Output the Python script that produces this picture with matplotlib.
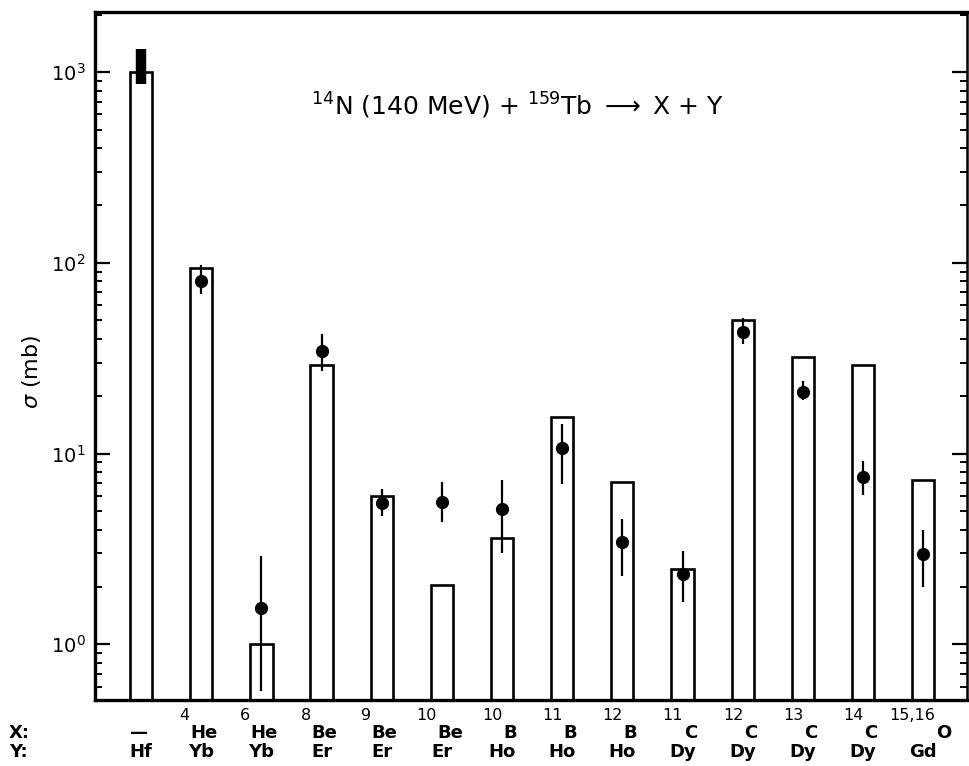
import numpy as np
import matplotlib
matplotlib.use("Agg")
import matplotlib.pyplot as plt
from matplotlib import transforms
from matplotlib.ticker import LogLocator, LogFormatterMathtext, NullFormatter

# Reaction products: light fragment X (mass number + element) and heavy partner Y
x_mass = ["", "4", "6", "8", "9", "10", "10", "11", "12", "11", "12", "13", "14", "15,16"]
x_elem = ["—", "He", "He", "Be", "Be", "Be", "B", "B", "B", "C", "C", "C", "C", "O"]
y_elem = ["Hf", "Yb", "Yb", "Er", "Er", "Er", "Ho", "Ho", "Ho", "Dy", "Dy", "Dy", "Dy", "Gd"]

# Calculated cross sections (mb), drawn as open bars
sigma_calc = [1000, 94, 0.99, 29.2, 6.0, 2.04, 3.6, 15.6, 7.05, 2.47, 50.3, 32.2, 29.2, 7.3]

# Measured cross sections (mb) with lower / upper error limits
sigma_exp = [1070, 80.5, 1.56, 34.6, 5.5, 5.6, 5.15, 10.7, 3.42, 2.35, 43.6, 21.1, 7.5, 2.96]
sigma_lo = [865, 69, 0.57, 27.2, 4.7, 4.4, 3.03, 6.9, 2.27, 1.66, 37.6, 19.2, 6.1, 2.01]
sigma_hi = [1318, 97.6, 2.9, 42.5, 6.5, 7.1, 7.3, 14.3, 4.56, 3.07, 51.4, 24.1, 9.1, 4.0]

fig = plt.figure(figsize=(9.7, 7.66), dpi=100)
ax = fig.add_axes([0.098, 0.086, 0.899, 0.898])

pos = np.arange(len(sigma_calc))
ax.set_yscale("log")
ax.set_ylim(0.51, 2060)
ax.set_xlim(-0.765, 13.73)

ax.bar(pos, sigma_calc, width=0.37, bottom=0.01, facecolor="white",
       edgecolor="black", linewidth=1.9, zorder=2)

exp = np.array(sigma_exp)
lo = np.array(sigma_lo)
hi = np.array(sigma_hi)
# compound-nucleus residue: broad measured band
ax.vlines(pos[:1], lo[:1], hi[:1], colors="black", linewidth=7.5, zorder=3)
ax.errorbar(pos[1:], exp[1:], yerr=[exp[1:] - lo[1:], hi[1:] - exp[1:]],
            fmt="o", color="black", markersize=8.5, elinewidth=1.6,
            capsize=0, zorder=4)

# Axes styling
for side in ["left", "bottom", "top"]:
    ax.spines[side].set_linewidth(2.4)
ax.spines["right"].set_linewidth(1.8)
ax.yaxis.set_major_locator(LogLocator(base=10, numticks=10))
ax.yaxis.set_minor_locator(LogLocator(base=10, subs=np.arange(2, 10), numticks=20))
ax.yaxis.set_major_formatter(LogFormatterMathtext())
ax.yaxis.set_minor_formatter(NullFormatter())
ax.tick_params(axis="y", which="both", direction="in", left=True, right=True,
               labelsize=14, pad=7)
ax.tick_params(axis="y", which="major", length=11, width=1.6)
ax.tick_params(axis="y", which="minor", length=5, width=1.4)
ax.tick_params(axis="x", which="both", bottom=False, top=False, labelbottom=False)
ax.set_ylabel(r"$\sigma$ (mb)", fontsize=16)
ax.yaxis.set_label_coords(-0.06, 0.477)

# Reaction label
ax.text(0.485, 0.864, r"$^{14}$N (140 MeV) + $^{159}$Tb $\longrightarrow$ X + Y",
        transform=ax.transAxes, ha="center", va="center", fontsize=18)

# Two-row category labels below the axis
blend = transforms.blended_transform_factory(ax.transData, fig.transFigure)
y_el = 1 - 733 / 766
y_sup = 1 - 716 / 766
y_row2 = 1 - 752 / 766
fig.text(0.009, y_el, "X:", ha="left", va="center", fontsize=13, fontweight="bold")
fig.text(0.009, y_row2, "Y:", ha="left", va="center", fontsize=13, fontweight="bold")

fig.canvas.draw()
renderer = fig.canvas.get_renderer()
for i, (m, e, y) in enumerate(zip(x_mass, x_elem, y_elem)):
    tm = ax.text(pos[i], y_sup, m, transform=blend, ha="left", va="center",
                 fontsize=11.5)
    te = ax.text(pos[i], y_el, e, transform=blend, ha="left", va="center",
                 fontsize=13, fontweight="bold")
    wm = tm.get_window_extent(renderer).width if m else 0.0
    we = te.get_window_extent(renderer).width
    start = -(wm + we) / 2 - 3
    tm.set_transform(blend + transforms.Affine2D().translate(start, 0))
    te.set_transform(blend + transforms.Affine2D().translate(start + wm + 1, 0))
    ax.text(pos[i], y_row2, y, transform=blend, ha="center", va="center",
            fontsize=13, fontweight="bold")

fig.savefig("out.png", dpi=100)
